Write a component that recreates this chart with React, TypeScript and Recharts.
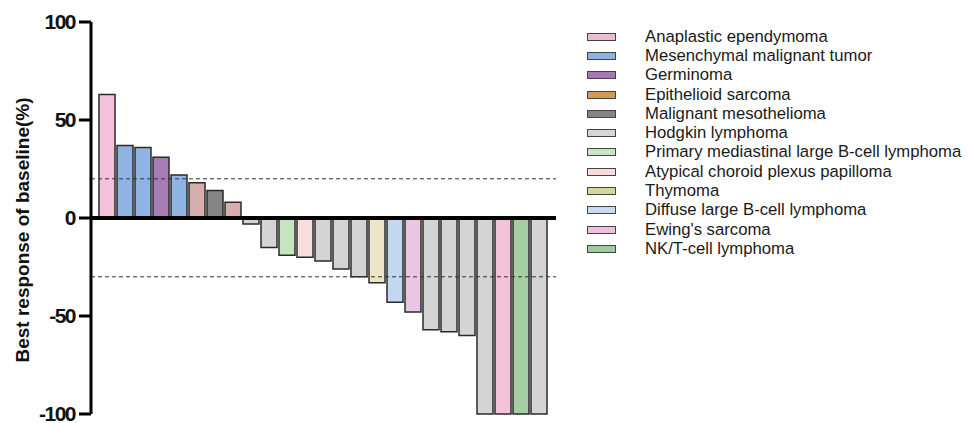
import { Bar, BarChart, Cell, ReferenceLine, XAxis, YAxis } from 'recharts'

// tumour types, in legend order
const tumorTypes = [
  'Anaplastic ependymoma',
  'Mesenchymal malignant tumor',
  'Germinoma',
  'Epithelioid sarcoma',
  'Malignant mesothelioma',
  'Hodgkin lymphoma',
  'Primary mediastinal large B-cell lymphoma',
  'Atypical choroid plexus papilloma',
  'Thymoma',
  'Diffuse large B-cell lymphoma',
  "Ewing's sarcoma",
  'NK/T-cell lymphoma',
]

// one bar per patient, sorted by best response
const patientIds = Array.from({ length: 25 }, (_, i) => `P${i + 1}`)
const bestResponse = [
  63, 37, 36, 31, 22, 18, 14, 8, -3, -15, -19, -20, -22, -26, -30, -33, -43, -48, -57, -58, -60,
  -100, -100, -100, -100,
]
const patientType = [0, 1, 1, 2, 1, 3, 4, 3, 5, 5, 6, 7, 5, 5, 5, 8, 9, 10, 5, 5, 5, 5, 0, 11, 5]

const yTicks = [-100, -50, 0, 50, 100]
const thresholds = [20, -30]

const legendFill = [
  '#efb9d8', '#8fb4e4', '#a478b3', '#d29a52', '#858585', '#d6d6d6',
  '#c8e5c4', '#f8dcdb', '#d6d69a', '#c6daf1', '#efbee0', '#9fcc9e',
]
const barFill = [
  '#f4c2dd', '#8fb4e4', '#a67bb6', '#d7aeae', '#858585', '#d4d4d4',
  '#c6e4c1', '#f9dcdc', '#ede5c7', '#c3d8f0', '#ebc5e4', '#a5cfa2',
]

const data = patientIds.map((id, i) => ({ id, value: bestResponse[i], type: patientType[i] }))

const FONT = '"Liberation Sans", Arial, sans-serif'

function YLabel(props: any) {
  const vb = props.viewBox || {}
  const cx = 14
  const cy = vb.y + vb.height / 2 + 12
  return (
    <text
      x={cx}
      y={cy}
      transform={`rotate(-90 ${cx} ${cy})`}
      textAnchor="middle"
      dominantBaseline="central"
      fontSize={19}
      fontWeight="bold"
      fill="#111"
      fontFamily={FONT}
    >
      Best response of baseline(%)
    </text>
  )
}

export default function App() {
  return (
    <div style={{ position: 'relative', width: 962, height: 415, fontFamily: FONT, background: '#fff' }}>
      <BarChart
        width={962}
        height={415}
        data={data}
        margin={{ top: 14, right: 414, bottom: 9, left: 8 }}
        style={{ overflow: 'visible' }}
      >
        <XAxis dataKey="id" hide padding={{ left: 7, right: 8 }} />
        <YAxis
          domain={[-100, 100]}
          ticks={yTicks}
          interval={0}
          width={75}
          axisLine={{ stroke: '#000', strokeWidth: 3 }}
          tickLine={{ stroke: '#000', strokeWidth: 3 }}
          tickSize={12}
          tickMargin={4}
          tick={{ fill: '#111', fontSize: 21, fontWeight: 'bold', fontFamily: FONT, letterSpacing: -1.5 }}
          label={<YLabel />}
        />
        <Bar dataKey="value" barSize={16} stroke="#2a2a2a" strokeWidth={1.5} isAnimationActive={false}>
          {data.map((d) => (
            <Cell key={d.id} fill={barFill[d.type]} />
          ))}
        </Bar>
        {thresholds.map((t) => (
          <ReferenceLine key={t} y={t} stroke="#333" strokeWidth={1} strokeDasharray="4 3" />
        ))}
        <ReferenceLine y={0} stroke="#000" strokeWidth={4} />
      </BarChart>
      <div style={{ position: 'absolute', left: 579, top: 19 }}>
        {tumorTypes.map((name, i) => (
          <div key={name} style={{ display: 'flex', alignItems: 'center', height: 19.3 }}>
            <div
              style={{
                width: 27,
                height: 6,
                background: legendFill[i],
                border: '1.5px solid #444',
                marginRight: 29,
              }}
            />
            <span style={{ fontSize: 16.7, color: '#1a1a1a', whiteSpace: 'nowrap' }}>{name}</span>
          </div>
        ))}
      </div>
    </div>
  )
}
